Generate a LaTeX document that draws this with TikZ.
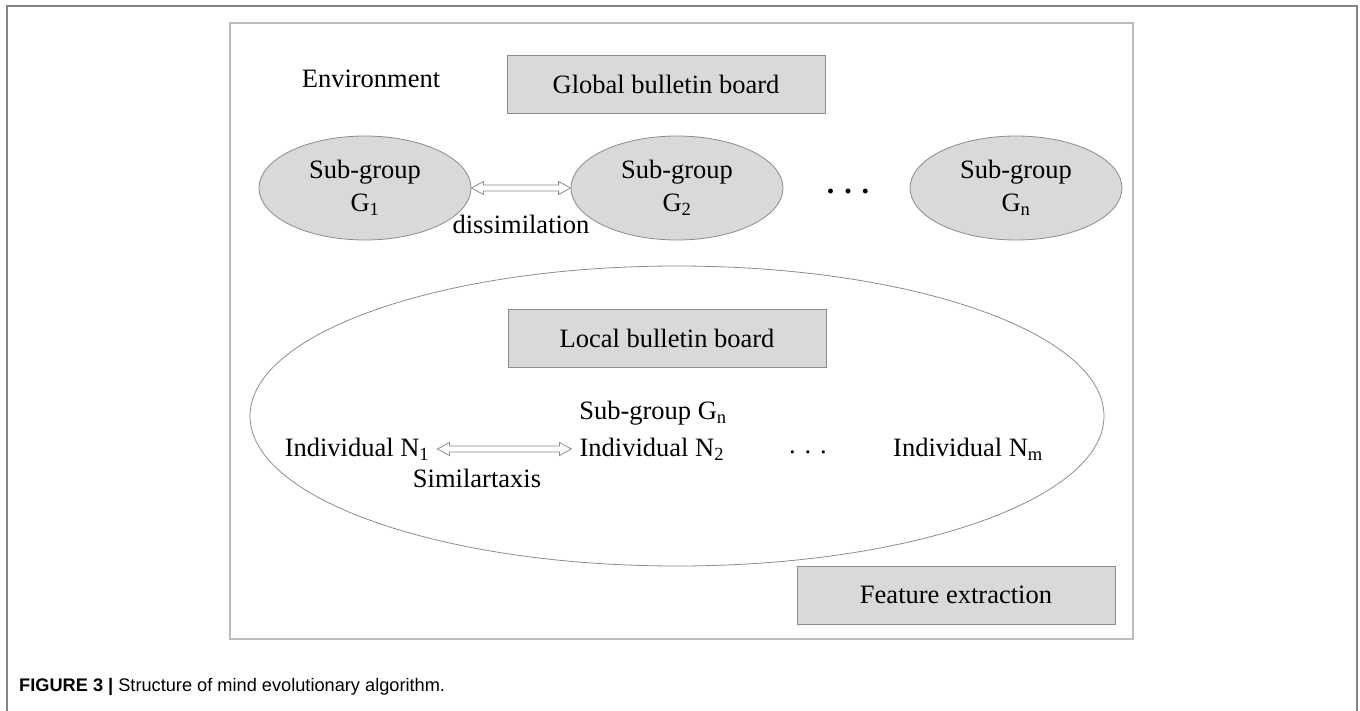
\documentclass[tikz,border=0pt]{standalone}
\usepackage{fontspec}
\setmainfont{Liberation Serif}
\newfontfamily\capfont{Liberation Sans}
\usetikzlibrary{shapes.geometric,calc,positioning}
\definecolor{boxgray}{HTML}{D9D9D9}
\definecolor{edgegray}{HTML}{8C8C8C}
\definecolor{framegray}{HTML}{BDBDBD}
\definecolor{outergray}{HTML}{858585}
% hollow two-headed arrow between two anchors
\newcommand{\hollowarrow}[2]{%
  \draw[hollow] (#1) -- ++(12,-6.5) -- ++(0,3.5) -- ($(#2)+(-12,-3)$) -- ++(0,-3.5)
    -- (#2) -- ++(-12,6.5) -- ++(0,-3.5) -- ($(#1)+(12,3)$) -- ++(0,3.5) -- cycle;}

\begin{document}
\begin{tikzpicture}[x=1pt,y=-1pt,
  every node/.style={font=\fontsize{26.5}{33}\selectfont},
  board/.style={draw=edgegray,line width=1pt,fill=boxgray,minimum width=318pt,minimum height=58pt},
  group/.style={ellipse,draw=edgegray,line width=0.8pt,fill=boxgray,minimum width=212pt,minimum height=104pt,inner sep=0pt,align=center},
  txt/.style={inner sep=8pt},
  hollow/.style={draw=edgegray,line width=0.8pt,fill=white,line join=miter}]
  \useasboundingbox (0,0) rectangle (1360,710);
  % frames
  \draw[outergray,line width=2pt] (7,720) -- (7,6) -- (1357,6) -- (1357,720);
  \draw[framegray,line width=1.5pt] (230,23) rectangle (1133,639);
  % top row
  \node (env) at (371,79) {Environment};
  \node[board] (global) at (666,84) {Global bulletin board};
  \node[group] (g1) at (365,188) {Sub-group\\G\textsubscript{1}};
  \node[group] (g2) at (677,188) {Sub-group\\G\textsubscript{2}};
  \node[group] (gn) at (1016,188) {Sub-group\\G\textsubscript{n}};
  \node[font=\fontsize{30}{30}\bfseries] (dots1) at (848,191) {. . .};
  \hollowarrow{g1.east}{g2.west}
  \node (dissim) at (521,224) {dissimilation};
  % sub-group detail
  \node[ellipse,draw=edgegray,line width=0.8pt,minimum width=854pt,minimum height=300pt] (sub) at (677,416) {};
  \node[board] (local) at (667,338) {Local bulletin board};
  \node (subn) at (653,413) {Sub-group G\textsubscript{n}};
  \node[txt] (n1) at (357,449) {Individual N\textsubscript{1}};
  \node[txt,right=134pt of n1] (n2) {Individual N\textsubscript{2}};
  \node (dots2) at (808,452) {. . .};
  \node[txt] (nm) at (968,449) {Individual N\textsubscript{m}};
  \hollowarrow{n1.east}{n2.west}
  \node (simil) at (477,478) {Similartaxis};
  \node[board] (feature) at (956,595) {Feature extraction};
  % caption
  \node[anchor=base west,inner sep=0pt,font=\capfont\fontsize{18.2}{22}\selectfont] (cap) at (19,691)
    {\textbf{FIGURE 3 |} Structure of mind evolutionary algorithm.};
\end{tikzpicture}
\end{document}
